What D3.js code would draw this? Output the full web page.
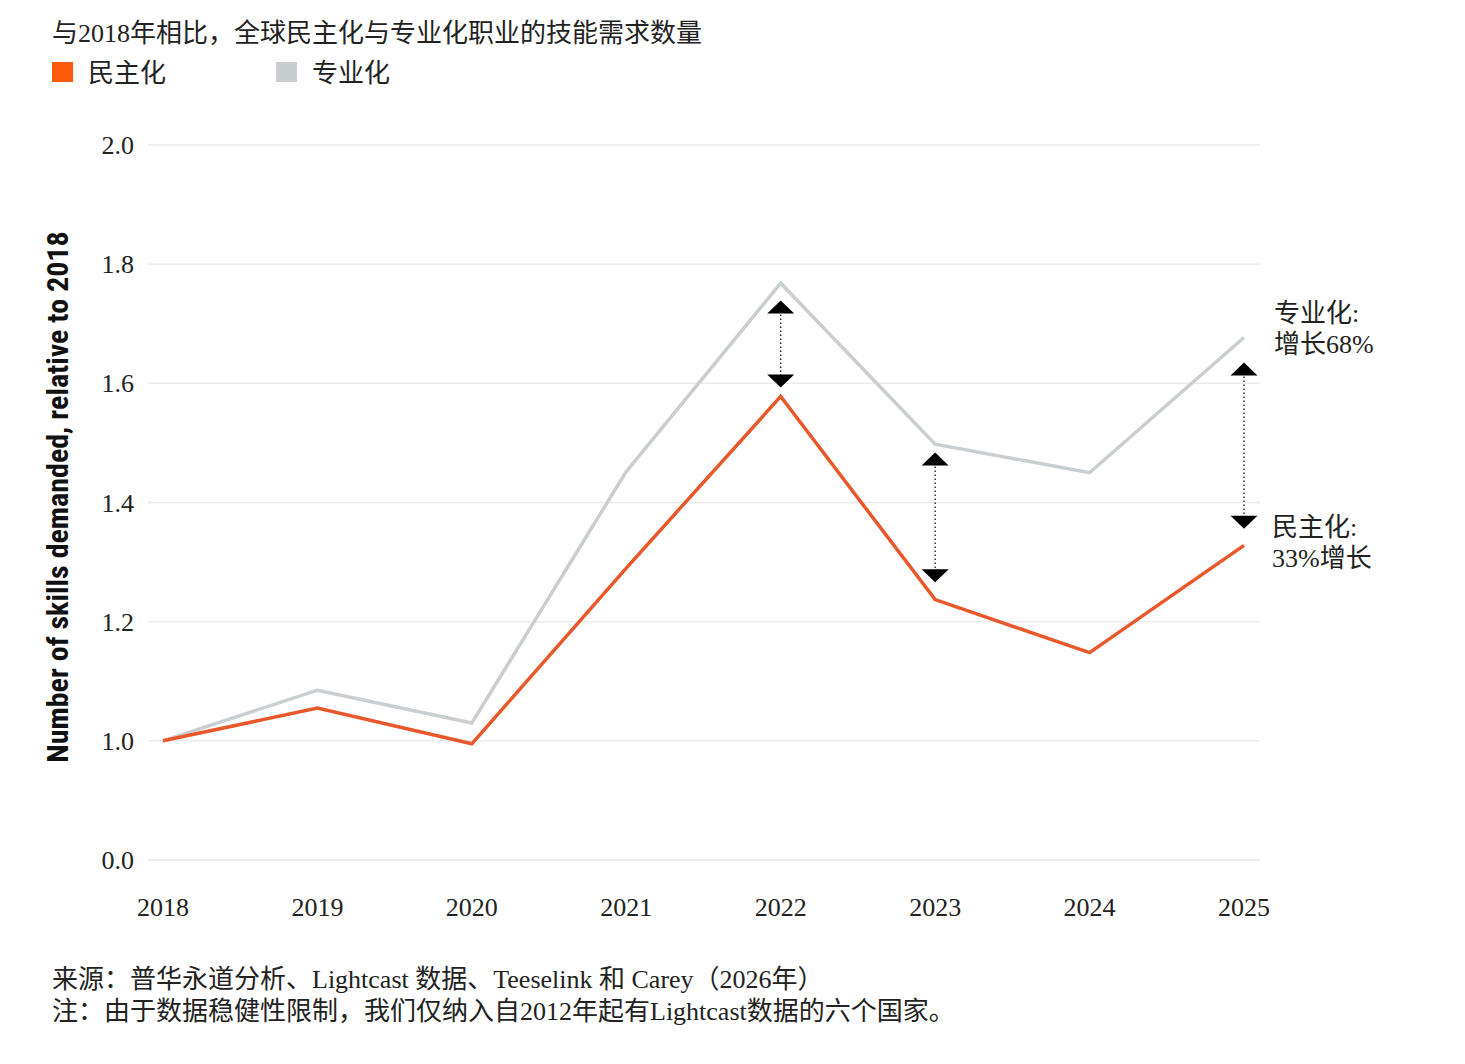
<!DOCTYPE html>
<html>
<head>
<meta charset="utf-8">
<script src="https://cdn.jsdelivr.net/npm/d3@7"></script>
<style>
  body { margin: 0; background: #fff; }
  text { font-family: "Liberation Serif", "Noto Sans CJK SC", serif; font-weight: normal; fill: #222; font-size: 26px; }
  .ytitle { font-family: "Liberation Sans Narrow", "Roboto Condensed", "Liberation Sans", sans-serif; font-weight: bold; fill: #111; }
</style>
</head>
<body>
<script>

// data
const years = [2018, 2019, 2020, 2021, 2022, 2023, 2024, 2025];
const demo = [1.0, 1.055, 0.995, 1.29, 1.578, 1.237, 1.148, 1.328];   // 民主化
const spec = [1.0, 1.085, 1.03, 1.452, 1.768, 1.498, 1.45, 1.677];   // 专业化
// the bottom gridline is labelled 0.0 though it sits one step below 1.0
const yTicks = [0.8, 1.0, 1.2, 1.4, 1.6, 1.8, 2.0];
const yTickLabels = ["0.0", "1.0", "1.2", "1.4", "1.6", "1.8", "2.0"];
// gap arrows: year, top tip value, bottom tip value
const arrowYears = [2022, 2023, 2025];
const arrowTop = [1.739, 1.484, 1.635];
const arrowBottom = [1.593, 1.266, 1.356];

const width = 1465, height = 1064;

const svg = d3.select("body").append("svg")
    .attr("width", width)
    .attr("height", height);

const x = d3.scaleLinear().domain([2018, 2025]).range([163, 1244]);
const y = d3.scaleLinear().domain([0.8, 2]).range([860, 145]);

// gridlines
svg.append("g").selectAll("line")
  .data(yTicks)
  .enter().append("line")
  .attr("x1", 148).attr("x2", 1260)
  .attr("y1", d => y(d)).attr("y2", d => y(d))
  .attr("stroke", "#ebebeb")
  .attr("stroke-width", 1.5);

// y tick labels
svg.append("g").selectAll("text")
  .data(yTicks)
  .enter().append("text")
  .attr("x", 134)
  .attr("y", (d, i) => y(d) + 9)
  .attr("text-anchor", "end")
  .text((d, i) => yTickLabels[i]);

// x tick labels
svg.append("g").selectAll("text")
  .data(years)
  .enter().append("text")
  .attr("x", d => x(d))
  .attr("y", 916)
  .attr("text-anchor", "middle")
  .text(d => d);

// y axis title
svg.append("text")
  .attr("class", "ytitle")
  .attr("transform", "translate(68,497) rotate(-90)")
  .attr("text-anchor", "middle")
  .style("font-size", "30px")
  .text("Number of skills demanded, relative to 2018");

// lines
const line = d3.line().x((d, i) => x(years[i])).y(d => y(d));

svg.append("path")
  .datum(spec)
  .attr("d", line)
  .attr("fill", "none")
  .attr("stroke", "#c9ced1")
  .attr("stroke-width", 3.5);

svg.append("path")
  .datum(demo)
  .attr("d", line)
  .attr("fill", "none")
  .attr("stroke", "#e8582a")
  .attr("stroke-width", 3.5);

// gap arrows
const arrows = svg.append("g");
arrowYears.forEach((yr, i) => {
  const cx = x(yr), t = y(arrowTop[i]), b = y(arrowBottom[i]);
  arrows.append("line")
    .attr("x1", cx).attr("x2", cx)
    .attr("y1", t + 10).attr("y2", b - 10)
    .attr("stroke", "#111")
    .attr("stroke-width", 1.3)
    .attr("stroke-dasharray", "1.5,2.5");
  arrows.append("path")
    .attr("d", `M${cx},${t} L${cx + 13.5},${t + 13} L${cx - 13.5},${t + 13} Z`)
    .attr("fill", "#000");
  arrows.append("path")
    .attr("d", `M${cx},${b} L${cx + 13.5},${b - 13} L${cx - 13.5},${b - 13} Z`)
    .attr("fill", "#000");
});

// end labels
svg.append("text")
  .attr("x", 1274).attr("y", 322)
  .selectAll("tspan")
  .data(["专业化:", "增长68%"])
  .enter().append("tspan")
  .attr("x", 1274)
  .attr("dy", (d, i) => i ? 31 : 0)
  .text(d => d);
svg.append("text")
  .attr("x", 1272).attr("y", 536)
  .selectAll("tspan")
  .data(["民主化:", "33%增长"])
  .enter().append("tspan")
  .attr("x", 1272)
  .attr("dy", (d, i) => i ? 31 : 0)
  .text(d => d);

// title
svg.append("text")
  .attr("x", 52).attr("y", 42)
  .text("与2018年相比，全球民主化与专业化职业的技能需求数量");

// legend
const legend = [
  { name: "民主化", color: "#ff5a0a", x: 52 },
  { name: "专业化", color: "#c9ced1", x: 276 }
];
const lg = svg.append("g").selectAll("g")
  .data(legend)
  .enter().append("g")
  .attr("transform", d => `translate(${d.x},62)`);
lg.append("rect")
  .attr("width", 21).attr("height", 20)
  .attr("fill", d => d.color);
lg.append("text")
  .attr("x", 36).attr("y", 20)
  .text(d => d.name);

// footnotes
svg.append("text")
  .attr("x", 52).attr("y", 988)
  .text("来源：普华永道分析、Lightcast 数据、Teeselink 和 Carey（2026年）");
svg.append("text")
  .attr("x", 52).attr("y", 1020)
  .text("注：由于数据稳健性限制，我们仅纳入自2012年起有Lightcast数据的六个国家。");

</script>
</body>
</html>
